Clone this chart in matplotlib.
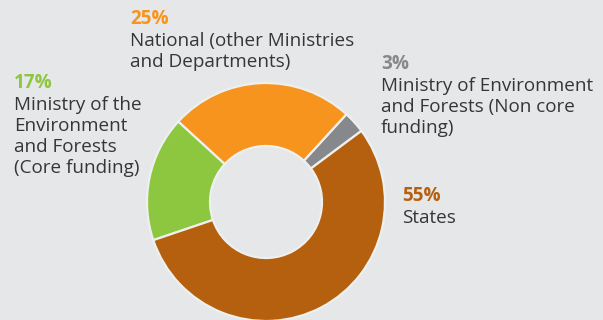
import matplotlib
matplotlib.use("Agg")
import matplotlib.pyplot as plt

# Data
categories = ["Ministry of Environment\nand Forests (Non core\nfunding)",
              "National (other Ministries\nand Departments)",
              "Ministry of the\nEnvironment\nand Forests\n(Core funding)",
              "States"]
values = [3, 25, 17, 55]
pct_labels = ["3%", "25%", "17%", "55%"]
colors = ["#87888b", "#f7941d", "#8dc63f", "#b5600f"]

W, H = 603, 320
BG = "#e6e7e8"
fig = plt.figure(figsize=(W / 100, H / 100), dpi=100, facecolor=BG)
ax = fig.add_axes([0, 0, 1, 1])
ax.set_facecolor(BG)
ax.axis("off")

cx, cy, R, r = 266, H - 202, 119, 56
ax.pie(values, colors=colors, startangle=36.7, counterclock=True,
       center=(cx, cy), radius=R,
       wedgeprops=dict(width=R - r, edgecolor="#eef0f0", linewidth=1.6))
ax.set_xlim(0, W)
ax.set_ylim(0, H)
ax.set_aspect("equal")

font = "Open Sans"
fs = 13.6
step = 21
# (x, pct baseline) positions in pixel coordinates from top
pos = [(381, 69), (130, 24), (14, 88), (402, 201)]
for lab, pct, col, (x, yb) in zip(categories, pct_labels, colors, pos):
    fig.text(x / W, 1 - yb / H, pct, color=col, fontsize=fs, fontweight="bold",
             family=font, va="baseline", ha="left")
    for i, line in enumerate(lab.split("\n")):
        fig.text(x / W, 1 - (yb + 22 + i * step) / H, line, color="#363636",
                 fontsize=fs, family=font, va="baseline", ha="left")

fig.savefig("out.png", dpi=100, facecolor=BG)
